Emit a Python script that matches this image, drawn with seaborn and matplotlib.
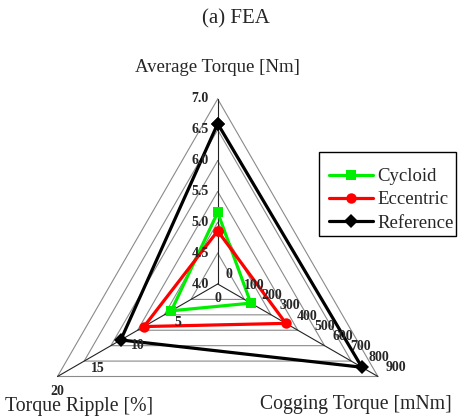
import numpy as np
import pandas as pd
import matplotlib
matplotlib.use('Agg')
import matplotlib.pyplot as plt
import seaborn as sns
from matplotlib.lines import Line2D
from matplotlib.patches import Rectangle

# data
designs = ['Cycloid', 'Eccentric', 'Reference']
axis_names = ['Average Torque [Nm]', 'Cogging Torque [mNm]', 'Torque Ripple [%]']
avg_torque = [5.16, 4.86, 6.6]
cogging_torque = [186, 383, 810]
torque_ripple = [5.8, 9.2, 12.1]

avg_ticks = [4.0, 4.5, 5.0, 5.5, 6.0, 6.5, 7.0]
cog_ticks = [0, 100, 200, 300, 400, 500, 600, 700, 800, 900]
rip_ticks = [0, 5, 10, 15, 20]

colors = {'Cycloid': '#00ee00', 'Eccentric': '#ff0000', 'Reference': '#000000'}
markers = {'Cycloid': 's', 'Eccentric': 'o', 'Reference': 'D'}

sns.set_style('white')
plt.rcParams['font.family'] = ['Liberation Serif', 'DejaVu Serif']

# radar geometry: top, lower right, lower left
angles = np.deg2rad([90, -30, 210])
ranges = [(avg_ticks[0], avg_ticks[-1]), (cog_ticks[0], cog_ticks[-1]), (rip_ticks[0], rip_ticks[-1])]

def to_xy(k, v):
    lo, hi = ranges[k]
    r = (v - lo) / (hi - lo)
    return r * np.cos(angles[k]), r * np.sin(angles[k])

rows = []
for i, d in enumerate(designs):
    vals = [avg_torque[i], cogging_torque[i], torque_ripple[i]]
    for j, k in enumerate([0, 1, 2, 0]):
        x, y = to_xy(k, vals[k])
        rows.append({'design': d, 'order': j, 'x': x, 'y': y})
df = pd.DataFrame(rows)

# pixel layout helpers (center of radar, radius in px)
W, H = 459, 418
cx, cy, R = 217.7, 284, 185

def px(x, y):
    return (x - cx) / R, (cy - y) / R

fig = plt.figure(figsize=(W / 100, H / 100), dpi=100)
ax = fig.add_axes([0, 0, 1, 1])
ax.set_xlim(px(0, 0)[0], px(W, 0)[0])
ax.set_ylim(px(0, H)[1], px(0, 0)[1])
ax.axis('off')

# triangular grid
for k in range(1, 7):
    r = k / 6
    gx = list(r * np.cos(angles)) + [r * np.cos(angles[0])]
    gy = list(r * np.sin(angles)) + [r * np.sin(angles[0])]
    ax.plot(gx, gy, color='#8a8a8a', lw=0.8, zorder=1)
for a in angles:
    ax.plot([0, np.cos(a)], [0, np.sin(a)], color='#222222', lw=0.8, zorder=1)

sns.lineplot(data=df, x='x', y='y', hue='design', style='design',
             palette=colors, markers=markers, dashes=False, sort=False,
             estimator=None, linewidth=2.3, markersize=7.5, markeredgewidth=0,
             legend=False, ax=ax, zorder=3)

# axis tick labels
tick_kw = dict(textcoords='offset pixels', fontsize=10, fontweight='bold', zorder=4)
for v in avg_ticks:
    ax.annotate(f'{v:.1f}', to_xy(0, v), xytext=(-9, 0), ha='right', va='center', **tick_kw)
for v in cog_ticks:
    ax.annotate(f'{v}', to_xy(1, v), xytext=(8, 9), ha='left', va='center', **tick_kw)
for v in rip_ticks:
    ax.annotate(f'{v}', to_xy(2, v), xytext=(0, -15), ha='center', va='center', **tick_kw)

ax.text(*px(236, 19), '(a) FEA', fontsize=15, ha='center', va='center')
ax.text(*px(217, 68), axis_names[0], fontsize=13.5, ha='center', va='center')
ax.text(*px(356, 405), axis_names[1], fontsize=14.2, ha='center', va='center')
ax.text(*px(79, 407), axis_names[2], fontsize=14.2, ha='center', va='center')

# legend: frame drawn separately so the padding matches
x0, y0 = px(319, 236)
x1, y1 = px(456, 152)
ax.add_patch(Rectangle((x0, y0), x1 - x0, y1 - y0, facecolor='white',
                       edgecolor='black', lw=1.0, zorder=5))
handles = [Line2D([], [], color=colors[d], marker=markers[d], lw=2.3, markersize=7.5,
                  markeredgewidth=0) for d in designs]
leg = ax.legend(handles, designs, loc='upper left', bbox_to_anchor=(329 / W, 1 - 168 / H),
                borderaxespad=0, frameon=False, fontsize=13.5, handlelength=2.35,
                handletextpad=0.25, labelspacing=0.33, borderpad=0)
leg.set_zorder(6)

fig.savefig('out.png', dpi=100)
